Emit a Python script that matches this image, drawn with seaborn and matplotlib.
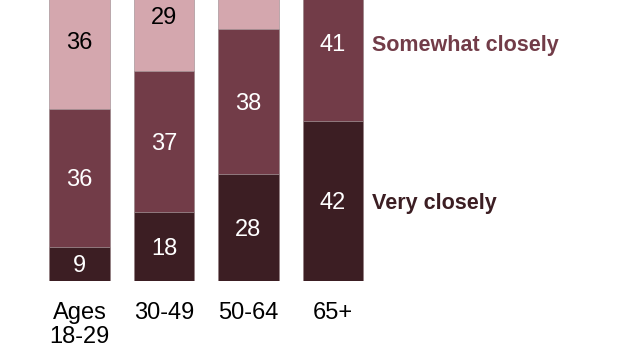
import numpy as np
import pandas as pd
import matplotlib
matplotlib.use("Agg")
import matplotlib.pyplot as plt
import seaborn as sns

# data (top segment partly cut off in the reference)
groups = ["Ages\n18-29", "30-49", "50-64", "65+"]
very_closely = [9, 18, 28, 42]
somewhat_closely = [36, 37, 38, 41]
not_too_closely = [36, 29, 23, 12]

series_names = ["Very closely", "Somewhat closely", "Not too closely"]
colors = ["#3c1e23", "#723c48", "#d4a7ae"]

sns.set_theme(style="white")
plt.rcParams["font.family"] = ["Liberation Sans", "DejaVu Sans"]

df = pd.DataFrame({
    "group": groups,
    "Very closely": very_closely,
    "Somewhat closely": somewhat_closely,
    "Not too closely": not_too_closely,
})
cum = df[series_names].cumsum(axis=1)

fig = plt.figure(figsize=(6.4, 3.6), dpi=100)
ax = fig.add_axes([0, 1 - 281 / 360, 1, 281 / 360])
ymax = 281 / 3.815

# draw stacked bars from the top layer down
for name, col in reversed(list(zip(series_names, colors))):
    sns.barplot(x=df["group"], y=cum[name], color=col, width=0.72,
                edgecolor="#a7979a", linewidth=0.5, ax=ax, saturation=1)

# segment labels (skip the ones that fall above the visible area)
for i in range(len(groups)):
    bottom = 0
    for name in series_names:
        v = df.loc[i, name]
        mid = bottom + v / 2
        bottom += v
        if mid > ymax - 2:
            continue
        tc = "black" if name == "Not too closely" else "white"
        ax.text(i, mid, str(v), ha="center", va="center_baseline",
                fontsize=17, color=tc)

# direct legend next to the last bar
last = len(groups) - 1
bottom = 0
for name, col in zip(series_names[:2], colors[:2]):
    v = df.loc[last, name]
    ax.text(last + 0.46, bottom + v / 2, name, ha="left", va="center_baseline",
            fontsize=15.5, fontweight="bold", color=col)
    bottom += v

ax.set_xlim(-79.5 / 84.5, (640 - 79.5) / 84.5)
ax.set_ylim(0, ymax)
ax.set_xlabel("")
ax.set_ylabel("")
ax.set_yticks([])
ax.tick_params(axis="x", length=0, labelsize=17, pad=15, colors="black")
for lab in ax.get_xticklabels():
    lab.set_linespacing(1.15)
sns.despine(ax=ax, left=True, bottom=True)

fig.savefig("out.png", dpi=100)
